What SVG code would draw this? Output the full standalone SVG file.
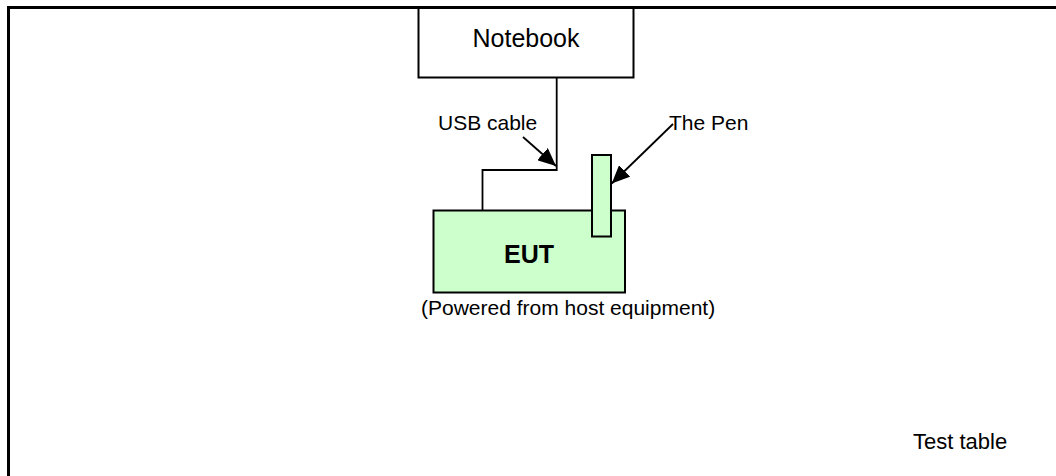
<svg xmlns="http://www.w3.org/2000/svg" width="1056" height="476" viewBox="0 0 1056 476">
  <defs>
    <style>
      text { font-family: "Liberation Sans", Arial, sans-serif; fill: #000; }
      .lbl { font-size: 21px; }
      .box { stroke: #000; stroke-width: 2; }
      .eut { fill: #CCFFCC; }
      .wire { fill: none; stroke: #000; stroke-width: 1.8; }
      .frame { fill: none; stroke: #000; stroke-width: 3; }
    </style>
    <marker id="arrow" markerUnits="userSpaceOnUse" markerWidth="20" markerHeight="16" refX="18" refY="8" orient="auto">
      <path d="M0,0 L18,8 L0,16 Z" fill="#000"/>
    </marker>
  </defs>

  <rect width="1056" height="476" fill="#fff"/>

  <!-- Notebook host -->
  <g id="notebook">
    <rect class="box" x="418.5" y="7.5" width="215" height="70" fill="#fff"/>
    <text x="526" y="47" font-size="25" text-anchor="middle">Notebook</text>
  </g>

  <!-- Test table outline -->
  <g id="test-table">
    <path class="frame" d="M8.5,480 V7.5 H1060"/>
    <text x="913" y="449" font-size="22">Test table</text>
  </g>

  <!-- Equipment under test -->
  <g id="eut">
    <rect class="box eut" x="433.5" y="210.5" width="191.5" height="82"/>
    <text x="529" y="263" font-size="25" font-weight="bold" text-anchor="middle">EUT</text>
    <text class="lbl" x="421" y="315">(Powered from host equipment)</text>
  </g>

  <!-- Pen -->
  <g id="pen">
    <rect class="box eut" x="592" y="155" width="19" height="81.5"/>
  </g>

  <!-- Cables and callouts -->
  <g id="connectors">
    <path class="wire" d="M556.7,77.5 V170 H482.5 V210.5"/>
    <line class="wire" x1="523" y1="137" x2="556" y2="166" marker-end="url(#arrow)"/>
    <line class="wire" x1="673" y1="124" x2="611.7" y2="183.5" marker-end="url(#arrow)"/>
    <text class="lbl" x="438" y="130">USB cable</text>
    <text class="lbl" x="669" y="130">The Pen</text>
  </g>
</svg>
